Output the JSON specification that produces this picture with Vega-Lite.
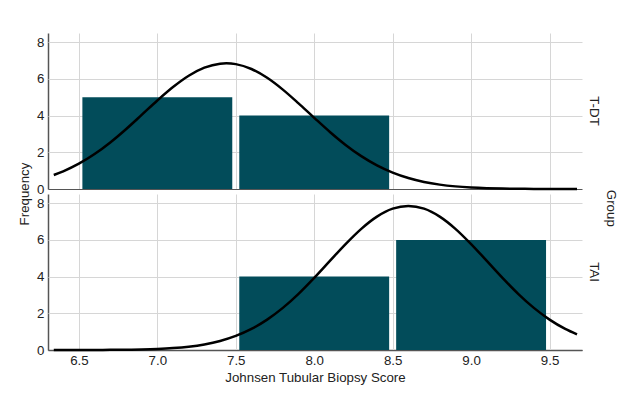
{
  "$schema": "https://vega.github.io/schema/vega-lite/v6.json",
  "background": "white",
  "padding": {"top": 33, "left": 17, "right": 5, "bottom": 5},
  "title": {"text": "Group", "orient": "right", "anchor": "middle", "fontSize": 13.3, "fontWeight": "normal", "font": "Liberation Sans", "color": "#222", "offset": 3},
  "data": {"values": [
    {"group": "T-DT", "kind": "bar", "start": 6.5, "end": 7.5, "count": 5},
    {"group": "T-DT", "kind": "bar", "start": 7.5, "end": 8.5, "count": 4},
    {"group": "TAI", "kind": "bar", "start": 7.5, "end": 8.5, "count": 4},
    {"group": "TAI", "kind": "bar", "start": 8.5, "end": 9.5, "count": 6},
    {"group": "T-DT", "kind": "curve", "score": 6.34, "density": 0.763},
    {"group": "T-DT", "kind": "curve", "score": 6.4, "density": 0.963},
    {"group": "T-DT", "kind": "curve", "score": 6.5, "density": 1.379},
    {"group": "T-DT", "kind": "curve", "score": 6.6, "density": 1.904},
    {"group": "T-DT", "kind": "curve", "score": 6.7, "density": 2.537},
    {"group": "T-DT", "kind": "curve", "score": 6.8, "density": 3.259},
    {"group": "T-DT", "kind": "curve", "score": 6.9, "density": 4.036},
    {"group": "T-DT", "kind": "curve", "score": 7.0, "density": 4.821},
    {"group": "T-DT", "kind": "curve", "score": 7.1, "density": 5.554},
    {"group": "T-DT", "kind": "curve", "score": 7.2, "density": 6.171},
    {"group": "T-DT", "kind": "curve", "score": 7.3, "density": 6.611},
    {"group": "T-DT", "kind": "curve", "score": 7.4, "density": 6.83},
    {"group": "T-DT", "kind": "curve", "score": 7.44, "density": 6.85},
    {"group": "T-DT", "kind": "curve", "score": 7.5, "density": 6.805},
    {"group": "T-DT", "kind": "curve", "score": 7.6, "density": 6.539},
    {"group": "T-DT", "kind": "curve", "score": 7.7, "density": 6.059},
    {"group": "T-DT", "kind": "curve", "score": 7.8, "density": 5.415},
    {"group": "T-DT", "kind": "curve", "score": 7.9, "density": 4.666},
    {"group": "T-DT", "kind": "curve", "score": 8.0, "density": 3.878},
    {"group": "T-DT", "kind": "curve", "score": 8.1, "density": 3.108},
    {"group": "T-DT", "kind": "curve", "score": 8.2, "density": 2.402},
    {"group": "T-DT", "kind": "curve", "score": 8.3, "density": 1.79},
    {"group": "T-DT", "kind": "curve", "score": 8.4, "density": 1.287},
    {"group": "T-DT", "kind": "curve", "score": 8.5, "density": 0.892},
    {"group": "T-DT", "kind": "curve", "score": 8.6, "density": 0.597},
    {"group": "T-DT", "kind": "curve", "score": 8.7, "density": 0.384},
    {"group": "T-DT", "kind": "curve", "score": 8.8, "density": 0.239},
    {"group": "T-DT", "kind": "curve", "score": 8.9, "density": 0.143},
    {"group": "T-DT", "kind": "curve", "score": 9.0, "density": 0.083},
    {"group": "T-DT", "kind": "curve", "score": 9.1, "density": 0.046},
    {"group": "T-DT", "kind": "curve", "score": 9.2, "density": 0.025},
    {"group": "T-DT", "kind": "curve", "score": 9.3, "density": 0.013},
    {"group": "T-DT", "kind": "curve", "score": 9.4, "density": 0.006},
    {"group": "T-DT", "kind": "curve", "score": 9.5, "density": 0.003},
    {"group": "T-DT", "kind": "curve", "score": 9.6, "density": 0.001},
    {"group": "T-DT", "kind": "curve", "score": 9.675, "density": 0.001},
    {"group": "TAI", "kind": "curve", "score": 6.34, "density": 0.0004},
    {"group": "TAI", "kind": "curve", "score": 6.5, "density": 0.0016},
    {"group": "TAI", "kind": "curve", "score": 6.6, "density": 0.0036},
    {"group": "TAI", "kind": "curve", "score": 6.7, "density": 0.0076},
    {"group": "TAI", "kind": "curve", "score": 6.8, "density": 0.0155},
    {"group": "TAI", "kind": "curve", "score": 6.9, "density": 0.03},
    {"group": "TAI", "kind": "curve", "score": 7.0, "density": 0.057},
    {"group": "TAI", "kind": "curve", "score": 7.1, "density": 0.104},
    {"group": "TAI", "kind": "curve", "score": 7.2, "density": 0.181},
    {"group": "TAI", "kind": "curve", "score": 7.3, "density": 0.305},
    {"group": "TAI", "kind": "curve", "score": 7.4, "density": 0.493},
    {"group": "TAI", "kind": "curve", "score": 7.5, "density": 0.767},
    {"group": "TAI", "kind": "curve", "score": 7.6, "density": 1.148},
    {"group": "TAI", "kind": "curve", "score": 7.7, "density": 1.655},
    {"group": "TAI", "kind": "curve", "score": 7.8, "density": 2.294},
    {"group": "TAI", "kind": "curve", "score": 7.9, "density": 3.061},
    {"group": "TAI", "kind": "curve", "score": 8.0, "density": 3.93},
    {"group": "TAI", "kind": "curve", "score": 8.1, "density": 4.855},
    {"group": "TAI", "kind": "curve", "score": 8.2, "density": 5.771},
    {"group": "TAI", "kind": "curve", "score": 8.3, "density": 6.603},
    {"group": "TAI", "kind": "curve", "score": 8.4, "density": 7.269},
    {"group": "TAI", "kind": "curve", "score": 8.5, "density": 7.701},
    {"group": "TAI", "kind": "curve", "score": 8.6, "density": 7.85},
    {"group": "TAI", "kind": "curve", "score": 8.7, "density": 7.701},
    {"group": "TAI", "kind": "curve", "score": 8.8, "density": 7.269},
    {"group": "TAI", "kind": "curve", "score": 8.9, "density": 6.603},
    {"group": "TAI", "kind": "curve", "score": 9.0, "density": 5.771},
    {"group": "TAI", "kind": "curve", "score": 9.1, "density": 4.855},
    {"group": "TAI", "kind": "curve", "score": 9.2, "density": 3.93},
    {"group": "TAI", "kind": "curve", "score": 9.3, "density": 3.061},
    {"group": "TAI", "kind": "curve", "score": 9.4, "density": 2.294},
    {"group": "TAI", "kind": "curve", "score": 9.5, "density": 1.655},
    {"group": "TAI", "kind": "curve", "score": 9.6, "density": 1.148},
    {"group": "TAI", "kind": "curve", "score": 9.675, "density": 0.851}
  ]},
  "facet": {
    "row": {
      "field": "group", "type": "nominal", "sort": ["T-DT", "TAI"],
      "header": {
        "title": "Frequency", "titleOrient": "left", "titleAngle": -90, "titlePadding": -19,
        "titleFont": "Liberation Sans", "titleFontSize": 13.3, "titleFontWeight": "normal", "titleColor": "#222",
        "labelOrient": "right", "labelAngle": 90, "labelFont": "Liberation Sans", "labelFontSize": 13.3, "labelColor": "#222", "labelPadding": 6
      }
    }
  },
  "spacing": 5,
  "bounds": "flush",
  "spec": {
    "width": 534,
    "height": 156,
    "layer": [
      {
        "transform": [{"filter": "datum.kind === 'bar'"}],
        "mark": {"type": "bar", "orient": "vertical", "color": "#024c5a", "xOffset": 3.5, "x2Offset": -3.5},
        "encoding": {
          "x": {"field": "start", "type": "quantitative",
                "scale": {"domain": [6.335, 9.675], "nice": false, "zero": false},
                "axis": {"title": "Johnsen Tubular Biopsy Score", "values": [6.5, 7.0, 7.5, 8.0, 8.5, 9.0, 9.5], "format": ".1f"}},
          "x2": {"field": "end"},
          "y": {"field": "count", "type": "quantitative",
                "scale": {"domain": [0, 8.5], "nice": false},
                "axis": {"title": null, "values": [0, 2, 4, 6, 8]}},
          "y2": {"datum": 0}
        }
      },
      {
        "transform": [{"filter": "datum.kind === 'curve'"}],
        "mark": {"type": "line", "color": "#000", "strokeWidth": 2.5, "interpolate": "monotone"},
        "encoding": {
          "x": {"field": "score", "type": "quantitative",
                "axis": {"title": "Johnsen Tubular Biopsy Score", "values": [6.5, 7.0, 7.5, 8.0, 8.5, 9.0, 9.5], "format": ".1f"}},
          "y": {"field": "density", "type": "quantitative",
                "axis": {"title": null, "values": [0, 2, 4, 6, 8]}}
        }
      }
    ]
  },
  "config": {
    "view": {"stroke": null},
    "font": "Liberation Sans",
    "axis": {
      "labelFont": "Liberation Sans", "labelFontSize": 13.3, "labelColor": "#222",
      "titleFont": "Liberation Sans", "titleFontSize": 13.3, "titleFontWeight": "normal", "titleColor": "#222",
      "ticks": false, "labelPadding": 4,
      "gridColor": "#d6d6d6", "gridWidth": 1,
      "domainColor": "#555", "domainWidth": 1.5
    },
    "axisX": {"titlePadding": 4, "labelPadding": 3, "labelFlush": false},
    "axisY": {"labelOverlap": false, "gridColor": {"condition": {"test": "datum.value === 0", "value": "#555"}, "value": "#d6d6d6"}}
  }
}
